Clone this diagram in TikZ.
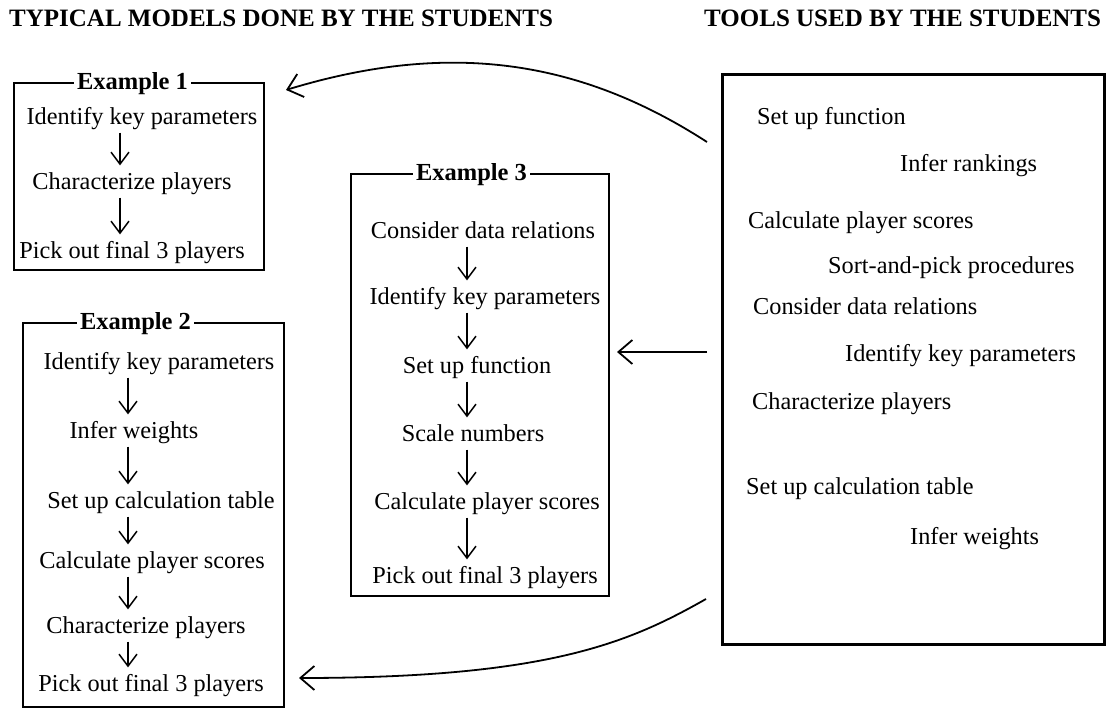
\documentclass[tikz,border=0pt]{standalone}
\usepackage{fontspec}
\setmainfont{Liberation Serif}
\newfontfamily\boldserif{Liberation Serif Bold}
\usetikzlibrary{arrows.meta}
\tikzset{
  txt/.style={font=\fontsize{24.3}{27}\selectfont, inner sep=0pt, text height=17.5pt, text depth=5.3pt},
  tooltxt/.style={txt, anchor=west},
  ttl/.style={font=\boldserif\fontsize{24.5}{27}\selectfont, fill=white, inner xsep=3pt, inner ysep=1pt, text height=16pt, text depth=0pt},
  hdr/.style={font=\boldserif\fontsize{25}{28}\selectfont, inner sep=0pt, anchor=west},
  exbox/.style={draw, line width=1.8pt, anchor=north west, inner sep=0pt},
  toolbox/.style={draw, line width=2.6pt, anchor=north west, inner sep=0pt},
  flow/.style={line width=1.5pt, shorten <=3pt, shorten >=6pt, -{Straight Barb[length=12pt,width=18pt,line width=1.5pt]}},
  link/.style={line width=1.8pt, -{Straight Barb[length=14pt,width=24pt,line width=1.8pt]}}
}
\begin{document}
\begin{tikzpicture}[x=1pt,y=-1pt]
\useasboundingbox (0,0) rectangle (1112,708);
% headers
\node[hdr] (h1) at (9,18) {TYPICAL MODELS DONE BY THE STUDENTS};
\node[hdr] (h2) at (704,18) {TOOLS USED BY THE STUDENTS};

% Example 1
\node[exbox, minimum width=250pt, minimum height=187pt] (ex1) at (13,82) {};
\node[ttl] (ex1t) at (132.5,82) {Example 1};
\node[txt] (e1a) at (142,118) {Identify key parameters};
\node[txt] (e1b) at (132,183) {Characterize players};
\node[txt] (e1c) at (132,252) {Pick out final 3 players};
\coordinate (ax1) at (120,0);
\draw[flow] (e1a.south -| ax1) -- (e1b.north -| ax1);
\draw[flow] (e1b.south -| ax1) -- (e1c.north -| ax1);

% Example 2
\node[exbox, minimum width=261pt, minimum height=384pt] (ex2) at (22,322) {};
\node[ttl] (ex2t) at (135.5,322) {Example 2};
\node[txt] (e2a) at (159,363) {Identify key parameters};
\node[txt] (e2b) at (134,432) {Infer weights};
\node[txt] (e2c) at (161,502) {Set up calculation table};
\node[txt] (e2d) at (152,562) {Calculate player scores};
\node[txt] (e2e) at (146,627) {Characterize players};
\node[txt] (e2f) at (151,685) {Pick out final 3 players};
\coordinate (ax2) at (128,0);
\draw[flow] (e2a.south -| ax2) -- (e2b.north -| ax2);
\draw[flow] (e2b.south -| ax2) -- (e2c.north -| ax2);
\draw[flow] (e2c.south -| ax2) -- (e2d.north -| ax2);
\draw[flow] (e2d.south -| ax2) -- (e2e.north -| ax2);
\draw[flow] (e2e.south -| ax2) -- (e2f.north -| ax2);

% Example 3
\node[exbox, minimum width=258pt, minimum height=422pt] (ex3) at (350,173) {};
\node[ttl] (ex3t) at (471.5,173) {Example 3};
\node[txt] (e3a) at (483,232) {Consider data relations};
\node[txt] (e3b) at (485,298) {Identify key parameters};
\node[txt] (e3c) at (477,367) {Set up function};
\node[txt] (e3d) at (473,435) {Scale numbers};
\node[txt] (e3e) at (487,503) {Calculate player scores};
\node[txt] (e3f) at (485,577) {Pick out final 3 players};
\coordinate (ax3) at (467,0);
\draw[flow] (e3a.south -| ax3) -- (e3b.north -| ax3);
\draw[flow] (e3b.south -| ax3) -- (e3c.north -| ax3);
\draw[flow] (e3c.south -| ax3) -- (e3d.north -| ax3);
\draw[flow] (e3d.south -| ax3) -- (e3e.north -| ax3);
\draw[flow] (e3e.south -| ax3) -- (e3f.north -| ax3);

% Tools
\node[toolbox, minimum width=382pt, minimum height=570pt] (tools) at (721,73) {};
\node[tooltxt] (t1) at (757,118) {Set up function};
\node[tooltxt] (t2) at (900,165) {Infer rankings};
\node[tooltxt] (t3) at (748,222) {Calculate player scores};
\node[tooltxt] (t4) at (828,267) {Sort-and-pick procedures};
\node[tooltxt] (t5) at (753,308) {Consider data relations};
\node[tooltxt] (t6) at (845,355) {Identify key parameters};
\node[tooltxt] (t7) at (752,403) {Characterize players};
\node[tooltxt] (t8) at (746,488) {Set up calculation table};
\node[tooltxt] (t9) at (910,538) {Infer weights};

% links
\coordinate (l1s) at (707,142);
\coordinate (l1e) at (286,90);
\draw[link] (l1s) .. controls (580,60) and (450,40) .. (l1e);
\coordinate (l2s) at (707,352);
\coordinate (l2e) at (617,352);
\draw[link] (l2s) -- (l2e);
\coordinate (l3s) at (706,599);
\coordinate (l3e) at (299,678);
\draw[link] (l3s) .. controls (630,642) and (550,678) .. (l3e);
\end{tikzpicture}
\end{document}
